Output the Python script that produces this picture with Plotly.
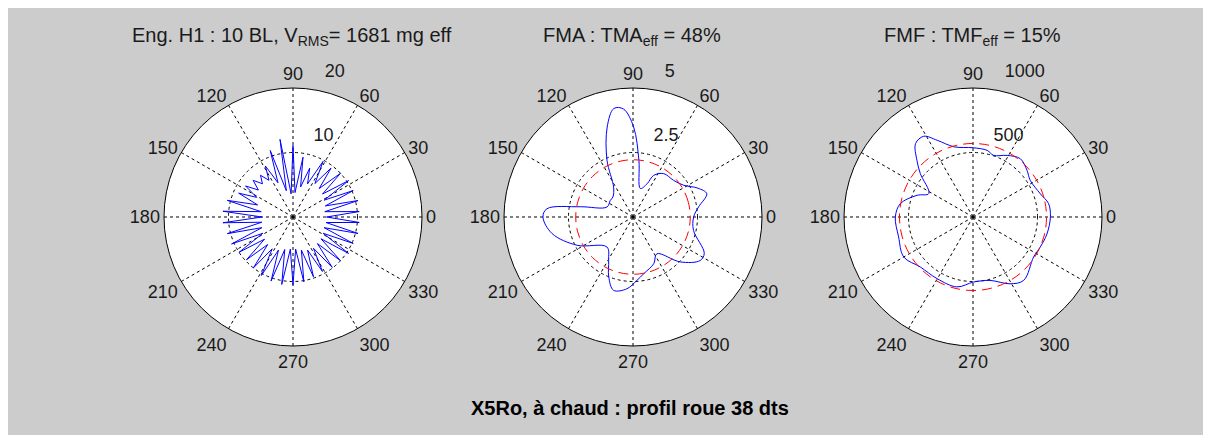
import plotly.graph_objects as go

# ---------------- data ----------------
angle_ticks = [0, 30, 60, 90, 120, 150, 180, 210, 240, 270, 300, 330]

titles = ["Eng. H1 : 10 BL, V<sub>RMS</sub>= 1681 mg eff",
          "FMA : TMA<sub>eff</sub> = 48%",
          "FMF : TMF<sub>eff</sub> = 15%"]
suptitle = "X5Ro, à chaud : profil roue 38 dts"

# panel 1 : engagement H1 (38 teeth, peak / trough)
h1_theta = [0, 4.7, 9.5, 14.2, 18.9, 23.7, 28.4, 33.2, 37.9, 42.6, 47.4, 52.1,
            56.8, 61.6, 66.3, 71.1, 75.8, 80.5, 85.3, 90.0, 94.7, 99.5, 104.2,
            108.9, 113.7, 118.4, 123.2, 127.9, 132.6, 137.4, 142.1, 146.8, 151.6,
            156.3, 161.1, 165.8, 170.5, 175.3, 180.0, 184.7, 189.5, 194.2, 198.9,
            203.7, 208.4, 213.2, 217.9, 222.6, 227.4, 232.1, 236.8, 241.6, 246.3,
            251.1, 255.8, 260.5, 265.3, 270.0, 274.7, 279.5, 284.2, 288.9, 293.7,
            298.4, 303.2, 307.9, 312.6, 317.4, 322.1, 326.8, 331.6, 336.3, 341.1,
            345.8, 350.5, 355.3, 360]
h1_r = [5.2, 10.3, 5.0, 10.4, 5.3, 10.2, 5.5, 10.3, 5.8, 10.0, 6.0, 9.6,
        6.2, 9.8, 5.6, 8.0, 4.8, 9.4, 3.8, 11.1, 3.6, 12.2, 4.2,
        10.9, 5.8, 9.0, 6.8, 8.2, 7.0, 8.4, 6.8, 8.8, 6.4,
        9.2, 5.8, 10.5, 5.0, 10.9, 4.8, 10.9, 4.9, 10.5, 5.1,
        10.4, 5.3, 10.0, 5.6, 9.8, 5.8, 10.0, 5.9, 10.3, 5.6,
        10.5, 5.2, 10.6, 5.0, 10.5, 5.0, 10.2, 5.3, 9.8, 5.6,
        9.6, 5.8, 9.9, 5.6, 10.0, 5.5, 10.3, 5.3, 10.2, 5.1,
        10.4, 5.2, 10.3, 5.2]

# panel 2 : FMA
fma_theta = [0, 8.7, 17.5, 24, 32, 42, 54.7, 63.6, 67, 75.5, 84, 89.6, 95, 100,
             106, 114.6, 123, 135, 144, 159, 169, 174.5, 180, 191.6, 206.8, 229,
             240.7, 247.9, 255.2, 265.2, 273.6, 281, 294, 303, 316.5, 327, 333,
             347.6, 360]
fma_r = [2.35, 2.57, 3.0, 2.75, 2.32, 2.12, 2.06, 1.8, 1.4, 1.14, 2.2, 3.49, 4.2, 4.27,
         3.63, 2.42, 1.38, 1.1, 1.09, 1.08, 2.08, 3.35, 3.49, 3.2, 2.43, 1.54,
         1.93, 2.5, 2.94, 2.79, 2.46, 2.23, 1.98, 1.7, 2.53, 3.1, 3.1,
         2.4, 2.35]
fma_mean = 2.22

# panel 3 : FMF
fmf_theta = [0, 10, 19, 32.6, 40.8, 51, 61, 71.5, 78, 90, 105, 115, 121.4, 128,
             134.7, 140.5, 152, 158.8, 169.6, 180, 195, 210, 223.5, 239.7, 257,
             270.6, 285, 299, 308.7, 326.6, 336, 347, 360]
fmf_r = [600, 595, 552, 527, 553, 582, 546, 504, 528, 537, 563, 656, 733, 723,
         618, 529, 388, 465, 573, 602, 597, 620, 563, 553, 556,
         504, 509, 592, 629, 563, 571, 588, 600]
fmf_mean = 570

circle_theta = [0, 15, 30, 45, 60, 75, 90, 105, 120, 135, 150, 165, 180, 195, 210,
                225, 240, 255, 270, 285, 300, 315, 330, 345, 360]

rmax = [20, 5, 1000]
rticks = [[10, 20], [2.5, 5], [500, 1000]]
rtick_labels = [["10", "20"], ["2.5", "5"], ["500", "1000"]]

# ---------------- figure ----------------
W, H = 1203, 427
FONT = "Liberation Sans, Arial, sans-serif"
BLUE, RED = "#0000ff", "#ff0000"
TXT = "#1a1a1a"
RAD_ANGLE = 80

fig = go.Figure()

fig.add_trace(go.Scatterpolar(theta=h1_theta, r=h1_r, mode="lines",
                              line=dict(color=BLUE, width=1), subplot="polar"))
fig.add_trace(go.Scatterpolar(theta=fma_theta, r=fma_r, mode="lines",
                              line=dict(color=BLUE, width=1, shape="spline"),
                              subplot="polar2"))
fig.add_trace(go.Scatterpolar(theta=circle_theta, r=[fma_mean] * len(circle_theta),
                              mode="lines", line=dict(color=RED, width=1, dash="10px,6px",
                                                      shape="spline"),
                              subplot="polar2"))
fig.add_trace(go.Scatterpolar(theta=fmf_theta, r=fmf_r, mode="lines",
                              line=dict(color=BLUE, width=1, shape="spline"),
                              subplot="polar3"))
fig.add_trace(go.Scatterpolar(theta=circle_theta, r=[fmf_mean] * len(circle_theta),
                              mode="lines", line=dict(color=RED, width=1, dash="10px,6px",
                                                      shape="spline"),
                              subplot="polar3"))

centers_x = [285, 625, 965]
cy, R = 209, 129
names = ["polar", "polar2", "polar3"]
for i, name in enumerate(names):
    cx = centers_x[i]
    fig.layout[name] = dict(
        domain=dict(x=[(cx - R) / W, (cx + R) / W], y=[1 - (cy + R) / H, 1 - (cy - R) / H]),
        bgcolor="white",
        angularaxis=dict(tickmode="array", tickvals=angle_ticks,
                         ticktext=[str(a) for a in angle_ticks],
                         direction="counterclockwise", rotation=0,
                         showline=True, linecolor="black", linewidth=1,
                         showgrid=True, gridcolor="black", gridwidth=1, griddash="3px,3px",
                         ticks="", tickfont=dict(family=FONT, size=18, color=TXT)),
        radialaxis=dict(range=[0, rmax[i]], tickmode="array", tickvals=rticks[i],
                        ticktext=[lab + "<br> <br> " for lab in rtick_labels[i]],
                        showline=False, ticks="", angle=RAD_ANGLE, side="clockwise",
                        tickangle=RAD_ANGLE,
                        showgrid=True, gridcolor="black", gridwidth=1, griddash="3px,3px",
                        tickfont=dict(family=FONT, size=18, color=TXT)),
    )

annotations = []
title_x = [284, 624, 964]
for i, t in enumerate(titles):
    annotations.append(dict(text=t, x=title_x[i] / W, y=1 - 29 / H, xref="paper", yref="paper",
                            xanchor="center", yanchor="middle", showarrow=False,
                            font=dict(family=FONT, size=20, color=TXT)))
annotations.append(dict(text="<b>" + suptitle + "</b>", x=621.5 / W, y=1 - 400 / H,
                        xref="paper", yref="paper", xanchor="center", yanchor="middle",
                        showarrow=False, font=dict(family=FONT, size=20, color="black")))

fig.update_layout(width=W, height=H, autosize=False,
                  margin=dict(l=0, r=0, t=0, b=0),
                  paper_bgcolor="#cccccc", showlegend=False,
                  annotations=annotations)

fig.write_html("out.html", post_script="document.body.style.overflow='hidden';")
